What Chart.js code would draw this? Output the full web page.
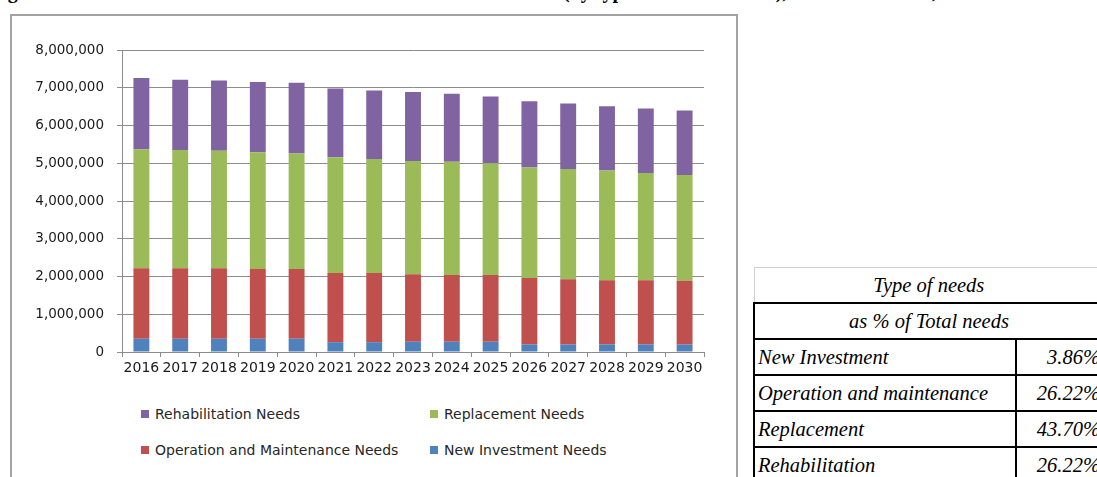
<!DOCTYPE html>
<html>
<head>
<meta charset="utf-8">
<script src="https://cdn.jsdelivr.net/npm/chart.js@4/dist/chart.umd.min.js"></script>
<style>
  html, body { margin: 0; padding: 0; background: #fff; }
  body { width: 1097px; height: 477px; position: relative; overflow: hidden; }
  .caption { position: absolute; font: bold 20px "Liberation Serif", serif; color: #000; white-space: nowrap; top: -20px; }
  #frame { position: absolute; left: 10px; top: 14px; width: 728px; height: 480px; border: 2px solid #a3a3a3; border-bottom: none; box-sizing: border-box; }
  #wrap { position: absolute; left: 11px; top: 15px; width: 726px; height: 377px; }
  #legend { position: absolute; left: 0; top: 0; font: 14px "DejaVu Sans", sans-serif; color: #262626; }
  .item { position: absolute; white-space: nowrap; display: flex; align-items: center; height: 20px; }
  .item i { display: inline-block; width: 8px; height: 8px; margin-right: 6px; }
  table.share { position: absolute; left: 753px; top: 267px; width: 352px; border-collapse: collapse;
                font: italic 20.5px "Liberation Serif", serif; color: #000; }
  table.share td { height: 34px; padding: 0 3px; border: 2px solid #000; line-height: 1; }
  table.share tr.head td { border-top: 1px solid #cfcfcf; border-left: 1px solid #cfcfcf; text-align: center; }
  table.share td.c { text-align: center; }
  table.share td.v { text-align: right; width: 80px; }
</style>
</head>
<body>
<span class="caption" style="left:-10px">Figure</span>
<span class="caption" style="left:563px">(by type of needs in EUR),</span>
<span class="caption" style="right:160px">2016–2030,</span>

<div id="frame"></div>
<div id="wrap"><canvas id="c" width="726" height="377"></canvas></div>
<div id="legend"></div>

<table class="share">
  <tr class="head"><td colspan="2">Type of needs</td></tr>
  <tr><td colspan="2" class="c">as % of Total needs</td></tr>
  <tr><td>New Investment</td><td class="v">3.86%</td></tr>
  <tr><td>Operation and maintenance</td><td class="v">26.22%</td></tr>
  <tr><td>Replacement</td><td class="v">43.70%</td></tr>
  <tr><td>Rehabilitation</td><td class="v">26.22%</td></tr>
</table>

<script>
// Years on the category axis
const years = ['2016','2017','2018','2019','2020','2021','2022','2023','2024','2025','2026','2027','2028','2029','2030'];

// Needs per year, by type (stacked from the bottom up)
const newInvestment = [350000, 350000, 350000, 350000, 350000, 260000, 260000, 270000, 270000, 270000, 200000, 200000, 200000, 200000, 200000];
const operationMaintenance = [1870000, 1870000, 1870000, 1850000, 1850000, 1830000, 1830000, 1790000, 1770000, 1770000, 1760000, 1730000, 1700000, 1700000, 1690000];
const replacement = [3150000, 3130000, 3110000, 3090000, 3060000, 3070000, 3020000, 3000000, 3000000, 2960000, 2930000, 2920000, 2910000, 2840000, 2800000];
const rehabilitation = [1890000, 1860000, 1860000, 1860000, 1870000, 1820000, 1820000, 1830000, 1800000, 1770000, 1750000, 1730000, 1700000, 1710000, 1710000];

// Value axis ticks
const yTicks = [0, 1000000, 2000000, 3000000, 4000000, 5000000, 6000000, 7000000, 8000000];

const seriesNames = ['New Investment Needs', 'Operation and Maintenance Needs', 'Replacement Needs', 'Rehabilitation Needs'];
const seriesColors = ['#4F81BD', '#C0504D', '#9BBB59', '#8064A2'];
const seriesValues = [newInvestment, operationMaintenance, replacement, rehabilitation];

const datasets = seriesNames.map((name, i) => ({
  label: name,
  data: seriesValues[i],
  backgroundColor: seriesColors[i],
  borderWidth: 0,
  barPercentage: 0.41,
  categoryPercentage: 1.0
}));

const gridGrey = '#8c8c8c';
const chart = new Chart(document.getElementById('c'), {
  type: 'bar',
  data: { labels: years, datasets },
  options: {
    responsive: false,
    animation: false,
    devicePixelRatio: 1,
    layout: { padding: { top: 35, right: 33, left: 0, bottom: 0 } },
    plugins: { legend: { display: false }, tooltip: { enabled: false } },
    scales: {
      x: {
        stacked: true,
        grid: { display: true, drawOnChartArea: false, drawTicks: true, tickLength: 5, color: gridGrey, offset: true },
        border: { display: true, color: gridGrey, width: 1 },
        ticks: { color: '#1a1a1a', font: { family: 'DejaVu Sans', size: 14 }, padding: 3, maxRotation: 0, autoSkip: false },
        afterFit: s => { s.height = 40; }
      },
      y: {
        stacked: true,
        min: 0, max: 8000000,
        afterBuildTicks: s => { s.ticks = yTicks.map(v => ({ value: v })); },
        grid: { color: gridGrey, lineWidth: 1, tickLength: 5 },
        border: { display: true, color: gridGrey, width: 1 },
        ticks: {
          color: '#1a1a1a', font: { family: 'DejaVu Sans', size: 13.5 }, padding: 13,
          callback: v => Number(v).toLocaleString('en-US')
        },
        afterFit: s => { s.width = 111; }
      }
    }
  }
});

// Legend: two columns, series listed top of stack first
const legend = document.getElementById('legend');
const legendSlots = [[141, 404], [430, 404], [141, 440], [430, 440]];
chart.data.datasets.slice().reverse().forEach((ds, k) => {
  const el = document.createElement('div');
  el.className = 'item';
  el.style.left = legendSlots[k][0] + 'px';
  el.style.top = legendSlots[k][1] + 'px';
  const sw = document.createElement('i');
  sw.style.background = ds.backgroundColor;
  el.appendChild(sw);
  el.appendChild(document.createTextNode(ds.label));
  legend.appendChild(el);
});
</script>
</body>
</html>
